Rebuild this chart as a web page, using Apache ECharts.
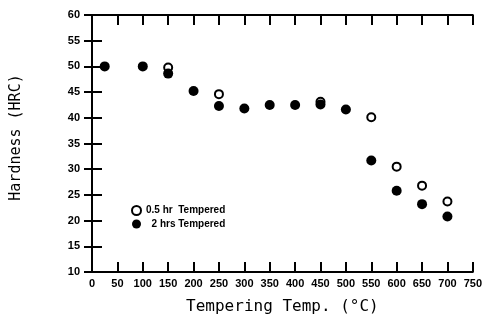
<!DOCTYPE html>
<html><head><meta charset="utf-8">
<script src="https://cdn.jsdelivr.net/npm/echarts@6/dist/echarts.min.js"></script>
<style>html,body{margin:0;padding:0;background:#fff}#c{width:485px;height:322px}</style>
</head><body><div id="c"></div>
<script>
const temps05 = [150, 250, 450, 550, 600, 650, 700];
const hard05 = [49.8, 44.6, 43.1, 40.1, 30.5, 26.8, 23.7];
const temps2 = [25, 100, 150, 200, 250, 300, 350, 400, 450, 500, 550, 600, 650, 700];
const hard2 = [50, 50, 48.6, 45.2, 42.3, 41.8, 42.5, 42.5, 42.6, 41.6, 31.7, 25.8, 23.2, 20.8];
const seriesNames = ['0.5 hr  Tempered', '  2 hrs Tempered'];
const xTitle = 'Tempering Temp. (°C)';
const yTitle = 'Hardness (HRC)';

const chart = echarts.init(document.getElementById('c'), null, {renderer: 'canvas'});
const lab = {color: '#000', fontFamily: 'Liberation Sans', fontSize: 11, fontWeight: 'bold'};
chart.setOption({
  animation: false,
  grid: {left: 92, right: 4, top: 15, bottom: 50},
  legend: {
    orient: 'vertical', left: 126, top: 200, itemGap: 3, itemWidth: 9, itemHeight: 9,
    textStyle: {fontSize: 10, fontWeight: 'bold', color: '#000', fontFamily: 'Liberation Sans'},
    data: [
      {name: seriesNames[0], icon: 'circle', itemStyle: {color: '#fff', borderColor: '#000', borderWidth: 2}},
      {name: seriesNames[1], icon: 'circle', itemStyle: {color: '#000', opacity: 1}}
    ]
  },
  xAxis: [{
    type: 'value', min: 0, max: 750, interval: 50, position: 'bottom',
    name: xTitle, nameLocation: 'middle', nameGap: 27,
    nameTextStyle: {fontFamily: 'DejaVu Sans Mono', fontSize: 16, color: '#000'},
    axisLine: {lineStyle: {color: '#000', width: 2}},
    axisTick: {inside: true, length: 10, lineStyle: {color: '#000', width: 2}},
    axisLabel: Object.assign({margin: 6, showMaxLabel: true}, lab),
    splitLine: {show: false}
  }, {
    type: 'value', min: 0, max: 750, interval: 50, position: 'top',
    axisLine: {show: true, lineStyle: {color: '#000', width: 2}},
    axisTick: {inside: true, length: 10, lineStyle: {color: '#000', width: 2}},
    axisLabel: {show: false}, splitLine: {show: false}
  }],
  yAxis: [{
    type: 'value', min: 10, max: 60, interval: 5, position: 'left',
    name: yTitle, nameLocation: 'middle', nameGap: 68, nameRotate: 90,
    nameTextStyle: {fontFamily: 'DejaVu Sans Mono', fontSize: 15, color: '#000', padding: [0, 0, 0, 12]},
    axisLine: {show: true, lineStyle: {color: '#000', width: 2}},
    axisTick: {show: true, inside: true, length: 10, lineStyle: {color: '#000', width: 2}},
    axisLabel: Object.assign({margin: 12}, lab),
    splitLine: {show: false}
  }, {
    type: 'value', min: 10, max: 60, interval: 5, position: 'right',
    axisLine: {show: true, lineStyle: {color: '#000', width: 2}},
    axisTick: {show: true, inside: true, length: 8, lineStyle: {color: '#000', width: 2}},
    axisLabel: {show: false}, splitLine: {show: false}
  }],
  series: [{
    name: seriesNames[0], type: 'scatter', symbol: 'circle', symbolSize: 8,
    itemStyle: {color: '#fff', borderColor: '#000', borderWidth: 2, opacity: 1},
    data: temps05.map((t, i) => [t, hard05[i]]), z: 2
  }, {
    name: seriesNames[1], type: 'scatter', symbol: 'circle', symbolSize: 10,
    itemStyle: {color: '#000', opacity: 1},
    data: temps2.map((t, i) => [t, hard2[i]]), z: 3
  }]
});
</script></body></html>
